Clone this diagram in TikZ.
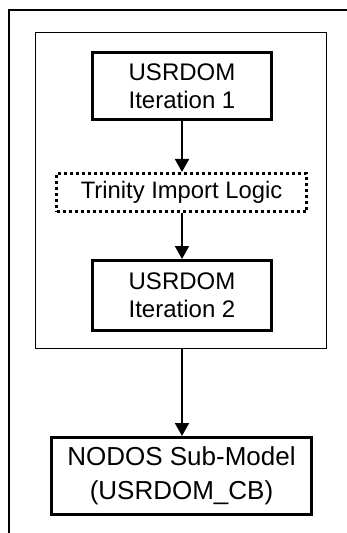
\documentclass[tikz,border=0pt]{standalone}
\usepackage{fontspec}
\setmainfont{Liberation Sans}
\usetikzlibrary{arrows.meta}
\begin{document}
\begin{tikzpicture}[x=1pt,y=-1pt,
  stepbox/.style={draw, line width=3pt, align=center, inner sep=0pt,
    font=\fontsize{24}{27.7}\selectfont},
  dotbox/.style={draw, line width=2.6pt, dash pattern=on 3pt off 3pt, align=center, inner sep=0pt,
    font=\fontsize{23.8}{27.7}\selectfont},
  frame/.style={draw, line width=1.5pt, inner sep=0pt},
  arr/.style={line width=2pt, -{Triangle[length=13pt,width=14pt]}}]
\useasboundingbox (0,0) rectangle (347,533);
\fill[white] (0,0) rectangle (347,533);
\draw[line width=2pt] (347,10) -- (9,10) -- (9,533);
\node[frame, minimum width=291pt, minimum height=316pt] (inner) at (181,190.5) {};
\node[stepbox, minimum width=179pt, minimum height=67pt] (it1) at (182,86) {USRDOM\\Iteration 1};
\node[dotbox, minimum width=250pt, minimum height=38.5pt] (tri) at (181.5,192.5) {Trinity Import Logic};
\node[stepbox, minimum width=179pt, minimum height=70pt] (it2) at (182,295.5) {USRDOM\\Iteration 2};
\node[stepbox, minimum width=260pt, minimum height=77pt, font=\fontsize{26}{34}\selectfont] (nodos) at (181.5,476) {NODOS Sub-Model\\(USRDOM\_CB)};
\draw[arr] (it1.south) -- (tri.north -| it1.south);
\draw[arr] (tri.south -| it1.south) -- (it2.north);
\draw[arr] (inner.south -| it1.south) -- (nodos.north -| it1.south);
\end{tikzpicture}
\end{document}
